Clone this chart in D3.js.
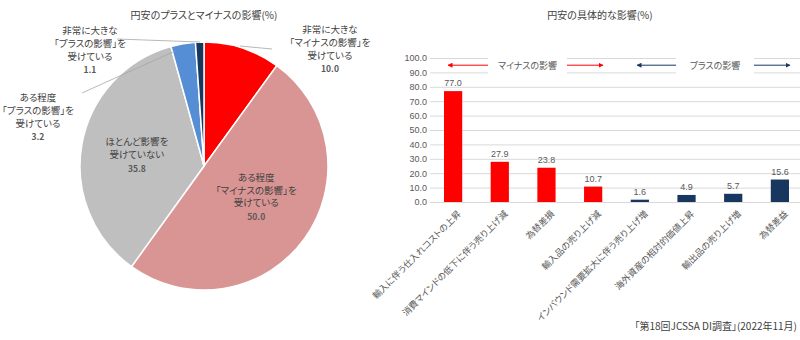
<!DOCTYPE html>
<html>
<head>
<meta charset="utf-8">
<script src="https://cdn.jsdelivr.net/npm/d3@7"></script>
<style>
  body { margin: 0; background: #fff; }
  svg { display: block; font-family: "Noto Sans CJK JP", sans-serif; font-feature-settings: "palt"; }
</style>
</head>
<body>
<svg id="chart" width="800" height="340"></svg>
<script>
// pie: 円安のプラスとマイナスの影響
var pieNames = ["非常に大きな「マイナスの影響」を受けている", "ある程度「マイナスの影響」を受けている",
    "ほとんど影響を受けていない", "ある程度「プラスの影響」を受けている", "非常に大きな「プラスの影響」を受けている"]
var pieValues = [10.0, 50.0, 35.8, 3.2, 1.1]
var pieLines = [
    ["非常に大きな", "「マイナスの影響」を", "受けている"],
    ["ある程度", "「マイナスの影響」を", "受けている"],
    ["ほとんど影響を", "受けていない"],
    ["ある程度", "「プラスの影響」を", "受けている"],
    ["非常に大きな", "「プラスの影響」を", "受けている"]
]
var pieColors = ["#ff0000", "#d99594", "#bfbfbf", "#558ed5", "#17375e"]

// bars: 円安の具体的な影響
var barNames = ["輸入に伴う仕入れコストの上昇", "消費マインドの低下に伴う売り上げ減", "為替差損", "輸入品の売り上げ減",
    "インバウンド需要拡大に伴う売り上げ増", "海外資産の相対的価値上昇", "輸出品の売り上げ増", "為替差益"]
var barValues = [77.0, 27.9, 23.8, 10.7, 1.6, 4.9, 5.7, 15.6]
var barGroup = ["minus", "minus", "minus", "minus", "plus", "plus", "plus", "plus"]
var yTicks = [0, 10, 20, 30, 40, 50, 60, 70, 80, 90, 100]

var svg = d3.select("#chart"),
    textCol = "#404040",
    axisCol = "#595959"

// ---------- pie ----------
var cx = 204, cy = 166, R = 124

svg.append("text").attr("x", cx).attr("y", 19).attr("text-anchor", "middle")
    .attr("font-size", 10).attr("fill", textCol).text("円安のプラスとマイナスの影響(%)")

var pie = d3.pie().sort(null).value(function(d) { return d })
var arcs = pie(pieValues)
var arc = d3.arc().innerRadius(0).outerRadius(R)
var labelArc = d3.arc().innerRadius(R * 0.55).outerRadius(R * 0.55)

var pg = svg.append("g").attr("transform", "translate(" + cx + "," + cy + ")")

pg.selectAll("path").data(arcs).enter().append("path")
    .attr("d", arc)
    .attr("fill", function(d, i) { return pieColors[i] })
    .attr("stroke", "#fff").attr("stroke-width", 1.5)

// outer label placement (absolute page coords) and leader lines
var outerLabels = {
    0: { x: 330, y: 33, line: [[272, 49], [240, 46]] },
    3: { x: 38, y: 101, line: [[82, 93], [175, 51]] },
    4: { x: 90, y: 34, line: [[117, 39], [200, 42]] }
}
var innerNudge = { 1: [-3, -9], 2: [0, 1] }
var lh = 12.8

function drawLabel(x, y, lines, value) {
    var g = svg.append("g")
    lines.forEach(function(s, k) {
        g.append("text").attr("x", x).attr("y", y + k * lh).attr("text-anchor", "middle")
            .attr("font-size", 9.5).attr("fill", textCol).text(s)
    })
    g.append("text").attr("x", x).attr("y", y + lines.length * lh + 1).attr("text-anchor", "middle")
        .attr("font-size", 8.5).attr("font-weight", "bold").attr("fill", "#595959")
        .text(d3.format(".1f")(value))
}

arcs.forEach(function(d, i) {
    var o = outerLabels[i]
    if (o) {
        svg.append("polyline").attr("points", o.line.map(function(p) { return p.join(",") }).join(" "))
            .attr("fill", "none").attr("stroke", "#a6a6a6").attr("stroke-width", 0.8)
        drawLabel(o.x, o.y, pieLines[i], pieValues[i])
    } else {
        var c = labelArc.centroid(d), nd = innerNudge[i] || [0, 0]
        var n = pieLines[i].length + 1
        drawLabel(cx + c[0] + nd[0], cy + c[1] - (n - 1) * lh / 2 + 3 + nd[1], pieLines[i], pieValues[i])
    }
})

// ---------- bars ----------
var x = d3.scaleBand().domain(barNames).range([430, 803]).paddingInner(0.61).paddingOuter(0.3)
var y = d3.scaleLinear().domain([0, 100]).range([202, 58])
var barColor = { minus: "#ff0000", plus: "#17375e" }

svg.append("text").attr("x", 600).attr("y", 19).attr("text-anchor", "middle")
    .attr("font-size", 10).attr("fill", textCol).text("円安の具体的な影響(%)")

var grid = svg.append("g")
grid.selectAll("line").data(yTicks.slice(1)).enter().append("line")
    .attr("x1", 430).attr("x2", 800)
    .attr("y1", function(d) { return y(d) + 0.5 }).attr("y2", function(d) { return y(d) + 0.5 })
    .attr("stroke", "#d9d9d9")

var yAxis = svg.append("g").attr("transform", "translate(430,0)")
    .call(d3.axisLeft(y).tickValues(yTicks).tickFormat(d3.format(".1f")).tickSize(0).tickPadding(3))
yAxis.select(".domain").remove()
yAxis.selectAll("text").attr("font-size", 9).attr("fill", axisCol).attr("font-family", "Liberation Sans, Arial, sans-serif")

// legend with arrows over the grid
var defs = svg.append("defs")
;["minus", "plus"].forEach(function(k) {
    defs.append("marker").attr("id", "arr-" + k).attr("viewBox", "0 0 10 10")
        .attr("refX", 9).attr("refY", 5).attr("markerWidth", 5).attr("markerHeight", 5)
        .attr("orient", "auto-start-reverse")
        .append("path").attr("d", "M0,0L10,5L0,10z").attr("fill", barColor[k])
})
var legendItems = [
    { key: "minus", text: "マイナスの影響", a: 448, b: 488, c: 567, d: 603 },
    { key: "plus", text: "プラスの影響", a: 637, b: 676, c: 754, d: 790 }
]
var ly = y(95)
legendItems.forEach(function(l) {
    svg.append("rect").attr("x", l.b).attr("y", ly - 10).attr("width", l.c - l.b).attr("height", 20).attr("fill", "#fff")
    svg.append("line").attr("x1", l.b).attr("x2", l.a).attr("y1", ly).attr("y2", ly)
        .attr("stroke", barColor[l.key]).attr("stroke-width", 1).attr("marker-end", "url(#arr-" + l.key + ")")
    svg.append("line").attr("x1", l.c).attr("x2", l.d).attr("y1", ly).attr("y2", ly)
        .attr("stroke", barColor[l.key]).attr("stroke-width", 1).attr("marker-end", "url(#arr-" + l.key + ")")
    svg.append("text").attr("x", (l.b + l.c) / 2).attr("y", ly + 3.5).attr("text-anchor", "middle")
        .attr("font-size", 9).attr("fill", axisCol).text(l.text)
})

svg.selectAll("rect.bar").data(barValues).enter().append("rect").attr("class", "bar")
    .attr("x", function(d, i) { return x(barNames[i]) })
    .attr("width", x.bandwidth())
    .attr("y", function(d) { return y(d) })
    .attr("height", function(d) { return y(0) - y(d) })
    .attr("fill", function(d, i) { return barColor[barGroup[i]] })

svg.append("line").attr("x1", 430).attr("x2", 800).attr("y1", y(0) + 0.5).attr("y2", y(0) + 0.5).attr("stroke", "#d9d9d9")

svg.selectAll("text.val").data(barValues).enter().append("text").attr("class", "val")
    .attr("x", function(d, i) { return x(barNames[i]) + x.bandwidth() / 2 })
    .attr("y", function(d) { return y(d) - 5 })
    .attr("text-anchor", "middle").attr("font-size", 9).attr("fill", axisCol)
    .attr("font-family", "Liberation Sans, Arial, sans-serif")
    .text(d3.format(".1f"))

svg.selectAll("text.cat").data(barNames).enter().append("text").attr("class", "cat")
    .attr("transform", function(d) {
        return "translate(" + (x(d) + x.bandwidth() / 2 + 4) + "," + (y(0) + 8) + ") rotate(-45)"
    })
    .attr("text-anchor", "end").attr("dy", "0.7em").attr("font-size", 9).attr("fill", axisCol)
    .text(function(d) { return d })

svg.append("text").attr("x", 797).attr("y", 330).attr("text-anchor", "end")
    .attr("font-size", 10).attr("fill", textCol).text("「第18回JCSSA DI調査」(2022年11月)")
</script>
</body>
</html>
